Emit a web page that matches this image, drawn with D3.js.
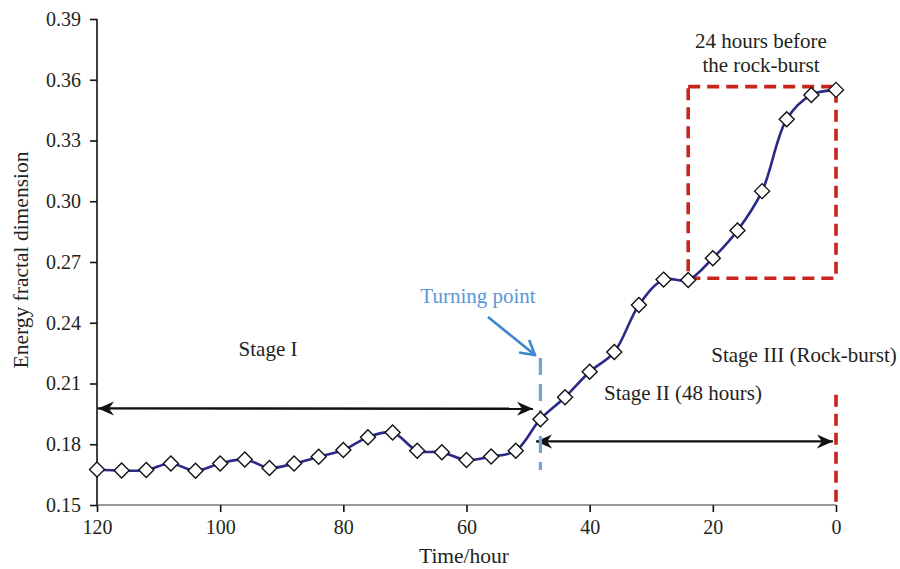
<!DOCTYPE html>
<html>
<head>
<meta charset="utf-8">
<script src="https://cdn.jsdelivr.net/npm/d3@7"></script>
<style>
  body { margin: 0; background: #fff; }
  svg { display: block; }
  text { font-family: "Liberation Serif", "DejaVu Serif", serif; fill: #231f20; }
</style>
</head>
<body>
<svg id="chart" width="900" height="569"></svg>
<script>
// data
const hours = [120, 116, 112, 108, 104, 100, 96, 92, 88, 84, 80, 76, 72, 68, 64, 60,
  56, 52, 48, 44, 40, 36, 32, 28, 24, 20, 16, 12, 8, 4, 0];
const fractalDim = [0.1675, 0.1670, 0.1673, 0.1705, 0.1669, 0.1705, 0.1725, 0.1683,
  0.1705, 0.1738, 0.1772, 0.1835, 0.1858, 0.1768, 0.1760, 0.1722, 0.1739, 0.1768,
  0.1924, 0.2032, 0.2158, 0.2255, 0.2488, 0.2613, 0.2611, 0.2719, 0.2856, 0.3050,
  0.3405, 0.3525, 0.3550];
const xTicks = [120, 100, 80, 60, 40, 20, 0];
const yTicks = [0.15, 0.18, 0.21, 0.24, 0.27, 0.30, 0.33, 0.36, 0.39];

const svg = d3.select('#chart');

const x = d3.scaleLinear().domain([120, 0]).range([97, 836]);
const y = d3.scaleLinear().domain([0.15, 0.39]).range([505, 19]);

// markers
const defs = svg.append('defs');
defs.append('marker')
  .attr('id', 'headBlack')
  .attr('viewBox', '-16 -8 18 16')
  .attr('refX', 0).attr('refY', 0)
  .attr('markerWidth', 18).attr('markerHeight', 16)
  .attr('markerUnits', 'userSpaceOnUse')
  .attr('orient', 'auto-start-reverse')
  .append('path')
  .attr('d', 'M0,0 L-16,-7 L-11,0 L-16,7 Z')
  .attr('fill', '#111');

defs.append('marker')
  .attr('id', 'headBlue')
  .attr('viewBox', '-16 -10 18 20')
  .attr('refX', 0).attr('refY', 0)
  .attr('markerWidth', 18).attr('markerHeight', 20)
  .attr('markerUnits', 'userSpaceOnUse')
  .attr('orient', 'auto')
  .append('path')
  .attr('d', 'M-14,-8 L0,0 L-14,8')
  .attr('fill', 'none')
  .attr('stroke', '#3d86cc')
  .attr('stroke-width', 2.6);

// axes
const yAxis = svg.append('g')
  .attr('transform', 'translate(' + x(120) + ',0)')
  .call(d3.axisLeft(y).tickValues(yTicks).tickFormat(d3.format('.2f')).tickSize(7).tickPadding(9));

const xAxis = svg.append('g')
  .attr('transform', 'translate(0,' + y(0.15) + ')')
  .call(d3.axisBottom(x).tickValues(xTicks).tickSize(7).tickPadding(8));

[yAxis, xAxis].forEach(function (a) {
  a.attr('font-family', 'Liberation Serif, serif').attr('font-size', 20);
  a.select('.domain').attr('stroke', '#111').attr('stroke-width', 1.6);
  a.selectAll('.tick line').attr('stroke', '#111').attr('stroke-width', 1.6);
  a.selectAll('.tick text')
    .attr('font-family', 'Liberation Serif, serif')
    .attr('font-size', 20)
    .style('font-size', '20px')
    .attr('fill', '#231f20');
});
xAxis.select('.domain').attr('stroke', '#777');
// remove the outer tick stubs drawn by the domain path
yAxis.select('.domain').attr('d', 'M0,' + y(0.39) + 'V' + y(0.15));
xAxis.select('.domain').attr('d', 'M' + x(120) + ',0H' + x(0));

// axis titles
svg.append('text')
  .attr('transform', 'translate(28,260) rotate(-90)')
  .attr('text-anchor', 'middle')
  .style('font-size', '21.5px')
  .text('Energy fractal dimension');

svg.append('text')
  .attr('x', 464).attr('y', 563)
  .attr('text-anchor', 'middle')
  .style('font-size', '21.5px')
  .text('Time/hour');

// stage arrows
svg.append('line')
  .attr('x1', x(120) + 1).attr('y1', y(0.1977))
  .attr('x2', x(49.2)).attr('y2', y(0.1975))
  .attr('stroke', '#111').attr('stroke-width', 2.4)
  .attr('marker-start', 'url(#headBlack)')
  .attr('marker-end', 'url(#headBlack)');

svg.append('line')
  .attr('x1', x(48.7)).attr('y1', y(0.1814))
  .attr('x2', x(0.5)).attr('y2', y(0.1814))
  .attr('stroke', '#111').attr('stroke-width', 2.4)
  .attr('marker-start', 'url(#headBlack)')
  .attr('marker-end', 'url(#headBlack)');

// red dashed box: 24 hours before the rock-burst
svg.append('rect')
  .attr('x', x(24)).attr('y', y(0.3566))
  .attr('width', x(0) - x(24)).attr('height', y(0.262) - y(0.3566))
  .attr('fill', 'none')
  .attr('stroke', '#c9241d').attr('stroke-width', 3.6)
  .attr('stroke-dasharray', '12,7');

svg.append('line')
  .attr('x1', x(0)).attr('y1', y(0.2045))
  .attr('x2', x(0)).attr('y2', y(0.15))
  .attr('stroke', '#c9241d').attr('stroke-width', 3.6)
  .attr('stroke-dasharray', '12,7');

// turning point line
svg.append('line')
  .attr('x1', x(48)).attr('y1', y(0.2226))
  .attr('x2', x(48)).attr('y2', y(0.1673))
  .attr('stroke', '#6ea4db').attr('stroke-width', 3.2)
  .attr('stroke-dasharray', '17,9');

svg.append('line')
  .attr('x1', 488).attr('y1', 317)
  .attr('x2', 535).attr('y2', 355)
  .attr('stroke', '#3d86cc').attr('stroke-width', 2.6)
  .attr('marker-end', 'url(#headBlue)');

// data line
const line = d3.line()
  .x(function (d, i) { return x(hours[i]); })
  .y(function (d) { return y(d); })
  .curve(d3.curveCatmullRom.alpha(0.5));

svg.append('path')
  .datum(fractalDim)
  .attr('d', line)
  .attr('fill', 'none')
  .attr('stroke', '#2b2a8a')
  .attr('stroke-width', 2.6);

svg.append('g').selectAll('path')
  .data(fractalDim)
  .enter()
  .append('path')
  .attr('transform', function (d, i) { return 'translate(' + x(hours[i]) + ',' + y(d) + ')'; })
  .attr('d', 'M0,-7.5 L7.5,0 L0,7.5 L-7.5,0 Z')
  .attr('fill', '#fff')
  .attr('stroke', '#111')
  .attr('stroke-width', 1.4);

// annotations
const notes = [
  { t: 'Stage I', x: 268, y: 356 },
  { t: 'Stage II (48 hours)', x: 683, y: 400 },
  { t: 'Stage III (Rock-burst)', x: 804, y: 362 },
  { t: '24 hours before', x: 761, y: 48 },
  { t: 'the rock-burst', x: 761, y: 72 }
];
svg.append('g').selectAll('text')
  .data(notes)
  .enter()
  .append('text')
  .attr('x', function (d) { return d.x; })
  .attr('y', function (d) { return d.y; })
  .attr('text-anchor', 'middle')
  .style('font-size', '21px')
  .text(function (d) { return d.t; });

svg.append('text')
  .attr('x', 478).attr('y', 303)
  .attr('text-anchor', 'middle')
  .style('font-size', '21px')
  .style('fill', '#5b97d6')
  .text('Turning point');
</script>
</body>
</html>
